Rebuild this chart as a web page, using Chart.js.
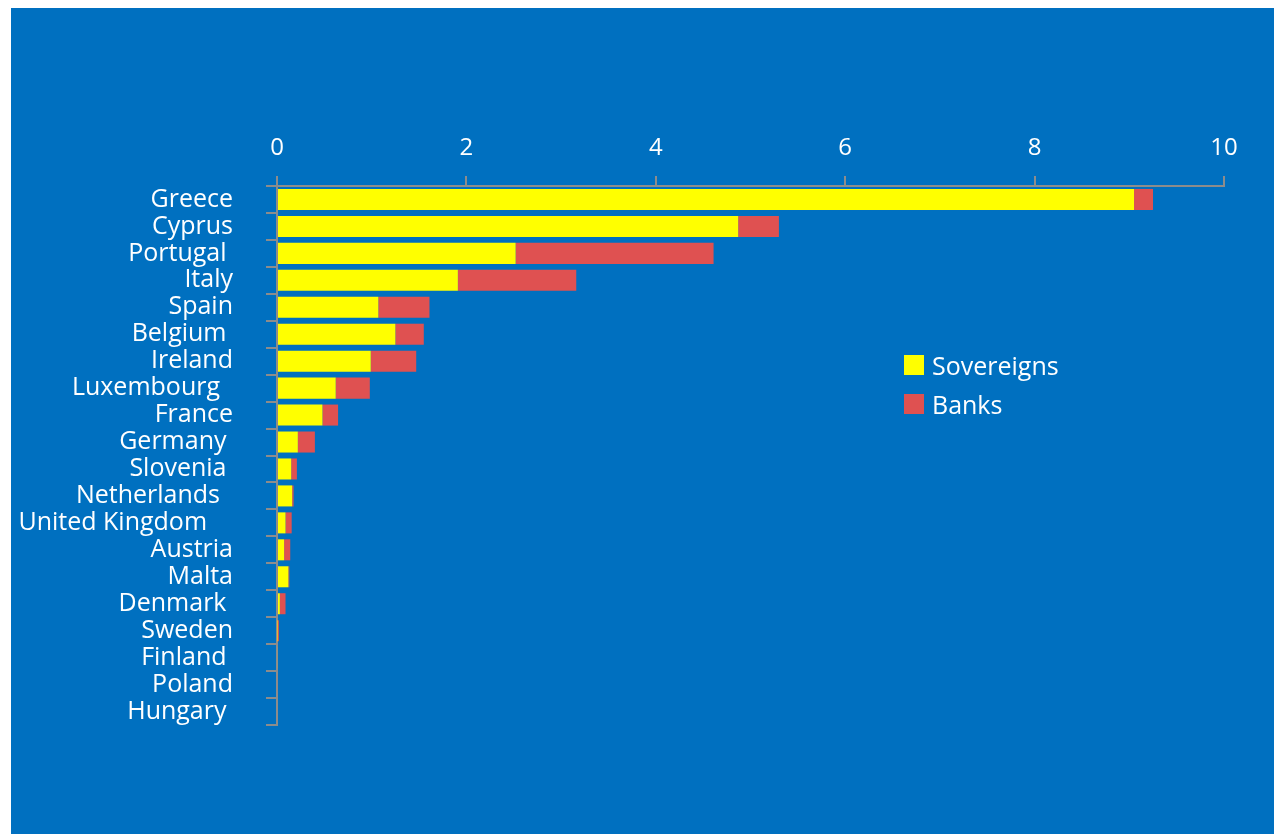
<!DOCTYPE html>
<html>
<head>
<meta charset="utf-8">
<script src="https://cdn.jsdelivr.net/npm/chart.js@4"></script>
<style>
    html, body { margin: 0; padding: 0; background: #ffffff; }
    .panel {
        position: absolute;
        left: 11px;
        top: 8px;
        width: 1263px;
        height: 826px;
        background: #0070c0;
    }
    .legend {
        position: absolute;
        left: 893px;
        top: 337px;
        font-family: "Open Sans", sans-serif;
        font-size: 25px;
        color: #ffffff;
    }
    .legend div { display: flex; align-items: center; height: 39px; }
    .legend span.box { width: 20px; height: 20px; margin-right: 8px; display: inline-block; }
</style>
</head>
<body>
<div class="panel">
    <canvas id="exposure" width="1263" height="826"></canvas>
    <div class="legend" id="legend"></div>
</div>
<script>
const countries = ['Greece', 'Cyprus', 'Portugal ', 'Italy', 'Spain', 'Belgium ', 'Ireland', 'Luxembourg  ',
    'France', 'Germany ', 'Slovenia ', 'Netherlands  ', 'United Kingdom    ', 'Austria', 'Malta',
    'Denmark ', 'Sweden', 'Finland ', 'Poland', 'Hungary '];
const sovereigns = [9.05, 4.87, 2.52, 1.91, 1.07, 1.25, 0.99, 0.62, 0.48, 0.22,
    0.15, 0.16, 0.09, 0.075, 0.12, 0.03, 0.005, 0.01, 0, 0];
const banks = [0.2, 0.43, 2.09, 1.25, 0.54, 0.3, 0.48, 0.36, 0.165, 0.18,
    0.06, 0.015, 0.065, 0.065, 0.01, 0.06, 0.015, 0, 0.01, 0];
const xTicks = [0, 2, 4, 6, 8, 10];

const yellow = '#ffff00';
const red = '#df5151';
const gray = '#8c8c8c';

const ctx = document.getElementById('exposure').getContext('2d');
const chart = new Chart(ctx, {
    type: 'bar',
    data: {
        labels: countries,
        datasets: [{
            label: 'Sovereigns',
            data: sovereigns,
            backgroundColor: yellow,
            barPercentage: 0.78,
            categoryPercentage: 1
        }, {
            label: 'Banks',
            data: banks,
            backgroundColor: red,
            barPercentage: 0.78,
            categoryPercentage: 1
        }]
    },
    options: {
        indexAxis: 'y',
        responsive: false,
        animation: false,
        layout: { padding: { left: 0, top: 0, right: 50, bottom: 109 } },
        plugins: {
            legend: { display: false },
            tooltip: { enabled: false }
        },
        scales: {
            x: {
                position: 'top',
                stacked: true,
                min: xTicks[0],
                max: xTicks[xTicks.length - 1],
                afterBuildTicks: s => { s.ticks = xTicks.map(v => ({ value: v })); },
                afterFit: s => { s.height = 178; },
                grid: { drawOnChartArea: false, color: gray, lineWidth: 2, tickLength: 10 },
                border: { color: gray, width: 2 },
                ticks: {
                    color: '#ffffff',
                    padding: 13,
                    font: { family: 'Open Sans', size: 24 }
                }
            },
            y: {
                stacked: true,
                afterFit: s => { s.width = 266; },
                grid: { drawOnChartArea: false, color: gray, lineWidth: 2, tickLength: 11, offset: true },
                border: { color: gray, width: 2 },
                ticks: {
                    color: '#ffffff',
                    padding: 33,
                    autoSkip: false,
                    font: { family: 'Open Sans', size: 25 }
                }
            }
        }
    }
});

// legend entries built from the datasets
const legend = document.getElementById('legend');
chart.data.datasets.forEach(ds => {
    const row = document.createElement('div');
    const box = document.createElement('span');
    box.className = 'box';
    box.style.background = ds.backgroundColor;
    row.appendChild(box);
    row.appendChild(document.createTextNode(ds.label));
    legend.appendChild(row);
});
</script>
</body>
</html>
